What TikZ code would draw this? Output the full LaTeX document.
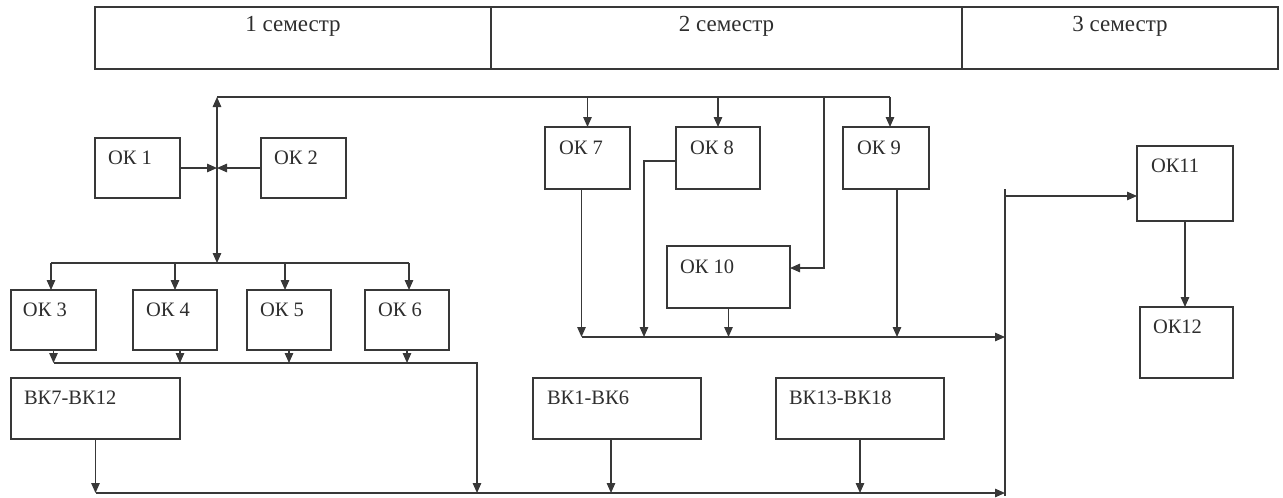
\documentclass[tikz,border=0pt]{standalone}
\usepackage{fontspec}
\setmainfont{Liberation Serif}
\usetikzlibrary{arrows.meta}
\definecolor{linec}{HTML}{383838}
\definecolor{textc}{HTML}{2E2E2E}
\begin{document}
\begin{tikzpicture}[x=1pt,y=-1pt,
  every node/.style={inner sep=0pt, outer sep=0pt},
  box/.style={draw=linec, line width=1.4pt, anchor=north west, rectangle},
  lbl/.style={anchor=base west, font=\fontsize{20.5}{24}\selectfont, text=textc},
  hdr/.style={anchor=base, font=\fontsize{23}{27}\selectfont, text=textc},
  conn/.style={draw=linec, line width=1.3pt},
  arr/.style={conn, -{Triangle[length=10pt,width=8.5pt]}},
]
\useasboundingbox (0,0) rectangle (1283,498);

% header
\node[box, minimum width=396pt, minimum height=62pt] (s1) at (95,7) {};
\node[box, minimum width=471pt, minimum height=62pt] (s2) at (491,7) {};
\node[box, minimum width=316pt, minimum height=62pt] (s3) at (962,7) {};
\node[hdr] (s1t) at ([shift={(0,24)}]s1.north) {1 семестр};
\node[hdr] (s2t) at ([shift={(0,24)}]s2.north) {2 семестр};
\node[hdr] (s3t) at ([shift={(0,24)}]s3.north) {3 семестр};

% boxes
\node[box, minimum width=85pt, minimum height=60pt] (ok1) at (95,138) {};
\node[box, minimum width=85pt, minimum height=60pt] (ok2) at (261,138) {};
\node[box, minimum width=85pt, minimum height=60pt] (ok3) at (11,290) {};
\node[box, minimum width=84pt, minimum height=60pt] (ok4) at (133,290) {};
\node[box, minimum width=84pt, minimum height=60pt] (ok5) at (247,290) {};
\node[box, minimum width=84pt, minimum height=60pt] (ok6) at (365,290) {};
\node[box, minimum width=169pt, minimum height=61pt] (bk7) at (11,378) {};
\node[box, minimum width=168pt, minimum height=61pt] (bk1) at (533,378) {};
\node[box, minimum width=168pt, minimum height=61pt] (bk13) at (776,378) {};
\node[box, minimum width=85pt, minimum height=62pt] (ok7) at (545,127) {};
\node[box, minimum width=84pt, minimum height=62pt] (ok8) at (676,127) {};
\node[box, minimum width=86pt, minimum height=62pt] (ok9) at (843,127) {};
\node[box, minimum width=123pt, minimum height=62pt] (ok10) at (667,246) {};
\node[box, minimum width=96pt, minimum height=75pt] (ok11) at (1137,146) {};
\node[box, minimum width=93pt, minimum height=71pt] (ok12) at (1140,307) {};

% labels
\node[lbl] (ok1t) at ([shift={(13,26)}]ok1.north west) {ОК 1};
\node[lbl] (ok2t) at ([shift={(13,26)}]ok2.north west) {ОК 2};
\node[lbl] (ok3t) at ([shift={(12,26)}]ok3.north west) {ОК 3};
\node[lbl] (ok4t) at ([shift={(13,26)}]ok4.north west) {ОК 4};
\node[lbl] (ok5t) at ([shift={(13,26)}]ok5.north west) {ОК 5};
\node[lbl] (ok6t) at ([shift={(13,26)}]ok6.north west) {ОК 6};
\node[lbl] (bk7t) at ([shift={(13,26)}]bk7.north west) {ВК7-ВК12};
\node[lbl] (bk1t) at ([shift={(14,26)}]bk1.north west) {ВК1-ВК6};
\node[lbl] (bk13t) at ([shift={(13,26)}]bk13.north west) {ВК13-ВК18};
\node[lbl] (ok7t) at ([shift={(14,27)}]ok7.north west) {ОК 7};
\node[lbl] (ok8t) at ([shift={(14,27)}]ok8.north west) {ОК 8};
\node[lbl] (ok9t) at ([shift={(14,27)}]ok9.north west) {ОК 9};
\node[lbl] (ok10t) at ([shift={(13,27)}]ok10.north west) {ОК 10};
\node[lbl] (ok11t) at ([shift={(14,26)}]ok11.north west) {ОК11};
\node[lbl] (ok12t) at ([shift={(13,26)}]ok12.north west) {ОК12};

% junction of OK1/OK2
\coordinate (j) at (217,168);
\coordinate (jt) at (217,97);
\coordinate (jd) at (217,263);
\draw[arr] (ok1.east) -- (ok1.east -| j);
\draw[arr] (ok2.west) -- (ok2.west -| j);
\draw[arr] (j) -- (jt);
\draw[arr] (j) -- (jd);

% distribution to OK3..OK6
\coordinate (d3) at (51,263);
\coordinate (d6) at (409,263);
\draw[conn] (d3) -- (d6);
\draw[arr] (d3) -- (d3 |- ok3.north);
\draw[arr] (ok4.north |- d3) -- (ok4.north);
\draw[arr] ([shift={(-4,0)}]ok5.north |- d3) -- ([shift={(-4,0)}]ok5.north);
\draw[arr] (d6) -- (d6 |- ok6.north);

% top line to OK7, OK8, OK9, OK10
\coordinate (t9) at (890,97);
\coordinate (b1) at (824,97);
\coordinate (b2) at (824,268);
\draw[conn] (jt) -- (t9);
\draw[arr] (ok7.north |- jt) -- (ok7.north);
\draw[arr] (ok8.north |- jt) -- (ok8.north);
\draw[arr] (t9) -- (t9 |- ok9.north);
\draw[arr] (b1) -- (b2) -- (b2 -| ok10.east);

% collector line below OK3..OK6
\coordinate (l1s) at (54,363);
\coordinate (l1e) at (477,363);
\coordinate (bl0) at (96,493);
\coordinate (o4s) at ([shift={(5,0)}]ok4.south);
\draw[arr] (ok3.south) -- (ok3.south |- l1s);
\draw[arr] (o4s) -- (o4s |- l1s);
\draw[arr] (ok5.south) -- (ok5.south |- l1s);
\draw[arr] (ok6.south) -- (ok6.south |- l1s);
\draw[arr] (ok3.south |- l1s) -- (l1e) -- (l1e |- bl0);

% bottom line
\coordinate (vt) at (1005,189);
\coordinate (vb) at (1005,496);
\coordinate (vk) at (1005,196);
\coordinate (vm) at (1005,337);
\coordinate (b1s) at ([shift={(-6,0)}]bk1.south);
\draw[arr] (bk7.south) -- (bk7.south |- bl0);
\draw[arr] (b1s) -- (b1s |- bl0);
\draw[arr] (bk13.south) -- (bk13.south |- bl0);
\draw[arr] (bl0) -- (bl0 -| vb);
\draw[conn] (vt) -- (vb);
\draw[arr] (vk) -- (vk -| ok11.west);

% middle collector line
\coordinate (o7s) at ([shift={(-6,0)}]ok7.south);
\coordinate (o9s) at ([shift={(11,0)}]ok9.south);
\coordinate (o8w) at ([shift={(0,3)}]ok8.west);
\coordinate (c8) at (644,337);
\draw[arr] (o7s) -- (o7s |- vm);
\draw[arr] (o8w) -| (c8);
\draw[arr] (ok10.south) -- (ok10.south |- vm);
\draw[arr] (o9s) -- (o9s |- vm);
\draw[arr] (o7s |- vm) -- (vm);

% OK11 -> OK12
\draw[arr] (ok11.south) -- (ok11.south |- ok12.north);
\end{tikzpicture}
\end{document}
